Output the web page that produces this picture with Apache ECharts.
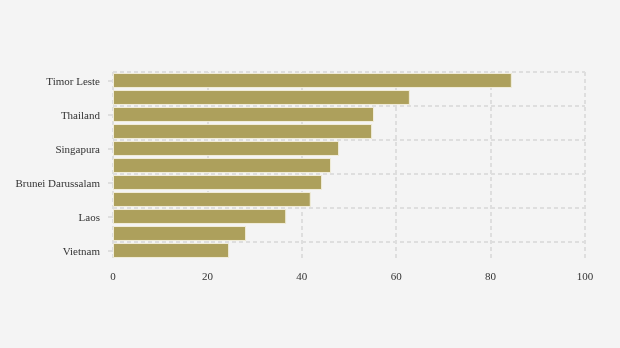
<!DOCTYPE html>
<html>
<head>
<meta charset="utf-8">
<script src="https://cdn.jsdelivr.net/npm/echarts@6/dist/echarts.min.js"></script>
<style>
  html, body { margin: 0; padding: 0; background: #f4f4f4; }
  #chart { width: 620px; height: 348px; }
</style>
</head>
<body>
<div id="chart"></div>
<script>
// Countries, top to bottom
const countries = [
  'Timor Leste', 'Indonesia', 'Thailand', 'Malaysia', 'Singapura', 'Filipina',
  'Brunei Darussalam', 'Kamboja', 'Laos', 'Myanmar', 'Vietnam'
];
const values = [84.5, 62.9, 55.3, 54.9, 47.9, 46.2, 44.3, 41.9, 36.7, 28.2, 24.6];
const xTicks = [0, 20, 40, 60, 80, 100];

const chart = echarts.init(document.getElementById('chart'));
const font = '"Liberation Serif", "DejaVu Serif", serif';
const gridColor = '#dedede';
const dash = [4, 3];

// horizontal rules every second row; the closing rule at the bottom edge is left out
const rowRuleColors = [gridColor, gridColor, gridColor, gridColor, gridColor, gridColor, 'rgba(0,0,0,0)'];

chart.setOption({
  backgroundColor: '#f4f4f4',
  animation: false,
  grid: { left: 113, right: 35, top: 72, bottom: 89 },
  xAxis: {
    type: 'value',
    min: xTicks[0],
    max: xTicks[xTicks.length - 1],
    interval: 20,
    axisLine: { show: false },
    axisTick: { show: false },
    axisLabel: { color: '#333', fontFamily: font, fontSize: 11, margin: 13 },
    splitLine: { show: true, lineStyle: { color: gridColor, type: dash, width: 2 } }
  },
  yAxis: {
    type: 'category',
    data: countries,
    inverse: true,
    axisLine: { show: false },
    axisTick: { show: true, alignWithLabel: true, interval: 1, length: 5, lineStyle: { color: gridColor, width: 2 } },
    axisLabel: {
      color: '#333', fontFamily: font, fontSize: 11, interval: 1, margin: 13,
      formatter: '{n|{value}}',
      rich: { n: { color: '#333', fontFamily: font, fontSize: 11, padding: [4, 0, 0, 0] } }
    },
    splitLine: { show: true, interval: 1, lineStyle: { color: rowRuleColors, type: dash, width: 2 } }
  },
  series: [{
    type: 'bar',
    data: values,
    barCategoryGap: '12%',
    itemStyle: { color: '#ada05c', borderColor: '#f1edda', borderWidth: 1 }
  }]
});
</script>
</body>
</html>
